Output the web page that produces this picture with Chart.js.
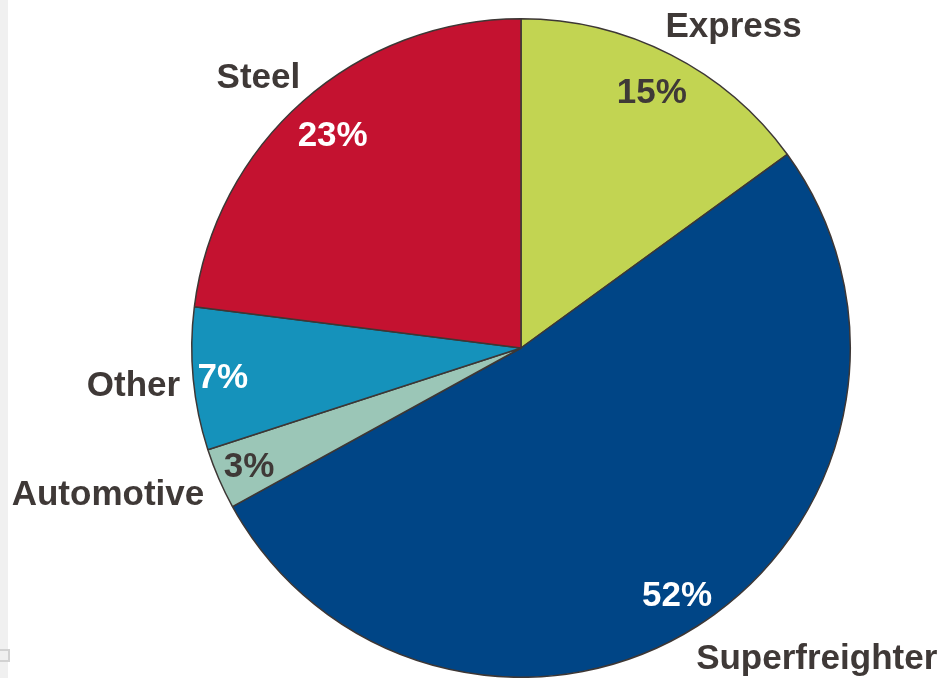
<!DOCTYPE html>
<html>
<head>
<meta charset="utf-8">
<script src="https://cdn.jsdelivr.net/npm/chart.js@4"></script>
<style>
  html, body { margin: 0; padding: 0; background: #fff; }
  #wrap { position: relative; width: 942px; height: 678px; overflow: hidden; }
  #strip { position: absolute; left: 0; top: 0; width: 8px; height: 678px; background: #f0f0f0; }
  #tab { position: absolute; left: -2px; top: 649px; width: 8px; height: 9px; border: 2px solid #d2d2d2; background: #f0f0f0; }
  canvas { position: absolute; left: 0; top: 0; }
</style>
</head>
<body>
<div id="wrap">
  <div id="strip"></div>
  <div id="tab"></div>
  <canvas id="c" width="942" height="678"></canvas>
</div>
<script>
const categories = ['Express', 'Superfreighter', 'Automotive', 'Other', 'Steel'];
const shares     = [15, 52, 3, 7, 23];
const colors     = ['#C2D452', '#004586', '#9BC6B7', '#1592BB', '#C41230'];
const pctColors  = ['#3f3937', '#ffffff', '#3f3937', '#ffffff', '#ffffff'];

const TXT  = '#3f3937';
const FONT = 'bold 35px "Liberation Sans", Arial, sans-serif';

// outer label placement: angle from 12 o'clock (deg) and distance in radii
const outer = {
  Express:        { a: 33.4,  r: 1.173 },
  Superfreighter: { a: 136.3, r: 1.30 },
  Automotive:     { a: 250.6, r: 1.33 },
  Other:          { a: 264.7, r: 1.182 },
  Steel:          { a: 316,   r: 1.148 },
};
const pctR = [0.875, 0.885, 0.90, 0.91, 0.865];

const labelPlugin = {
  id: 'labels',
  afterDatasetsDraw(chart) {
    const ctx = chart.ctx;
    const arcs = chart.getDatasetMeta(0).data;
    ctx.save();
    ctx.font = FONT;
    ctx.textAlign = 'center';
    ctx.textBaseline = 'middle';
    arcs.forEach((arc, i) => {
      const { x, y, startAngle, endAngle, outerRadius } = arc.getProps(['x', 'y', 'startAngle', 'endAngle', 'outerRadius'], true);
      const mid = (startAngle + endAngle) / 2;
      ctx.fillStyle = pctColors[i];
      ctx.fillText(shares[i] + '%', x + Math.cos(mid) * outerRadius * pctR[i], y + Math.sin(mid) * outerRadius * pctR[i] + 2);

      const o = outer[categories[i]];
      const t = (o.a - 90) * Math.PI / 180;
      ctx.fillStyle = TXT;
      ctx.fillText(categories[i], x + Math.cos(t) * outerRadius * o.r, y + Math.sin(t) * outerRadius * o.r + 2);
    });
    ctx.restore();
  }
};

new Chart(document.getElementById('c'), {
  type: 'pie',
  data: {
    labels: categories,
    datasets: [{
      data: shares,
      backgroundColor: colors,
      borderColor: '#3d3735',
      borderWidth: 1.5,
    }]
  },
  options: {
    responsive: false,
    animation: false,
    layout: { padding: { left: 191, right: 91, top: 18, bottom: 0 } },
    plugins: { legend: { display: false }, tooltip: { enabled: false } },
  },
  plugins: [labelPlugin],
});
</script>
</body>
</html>
